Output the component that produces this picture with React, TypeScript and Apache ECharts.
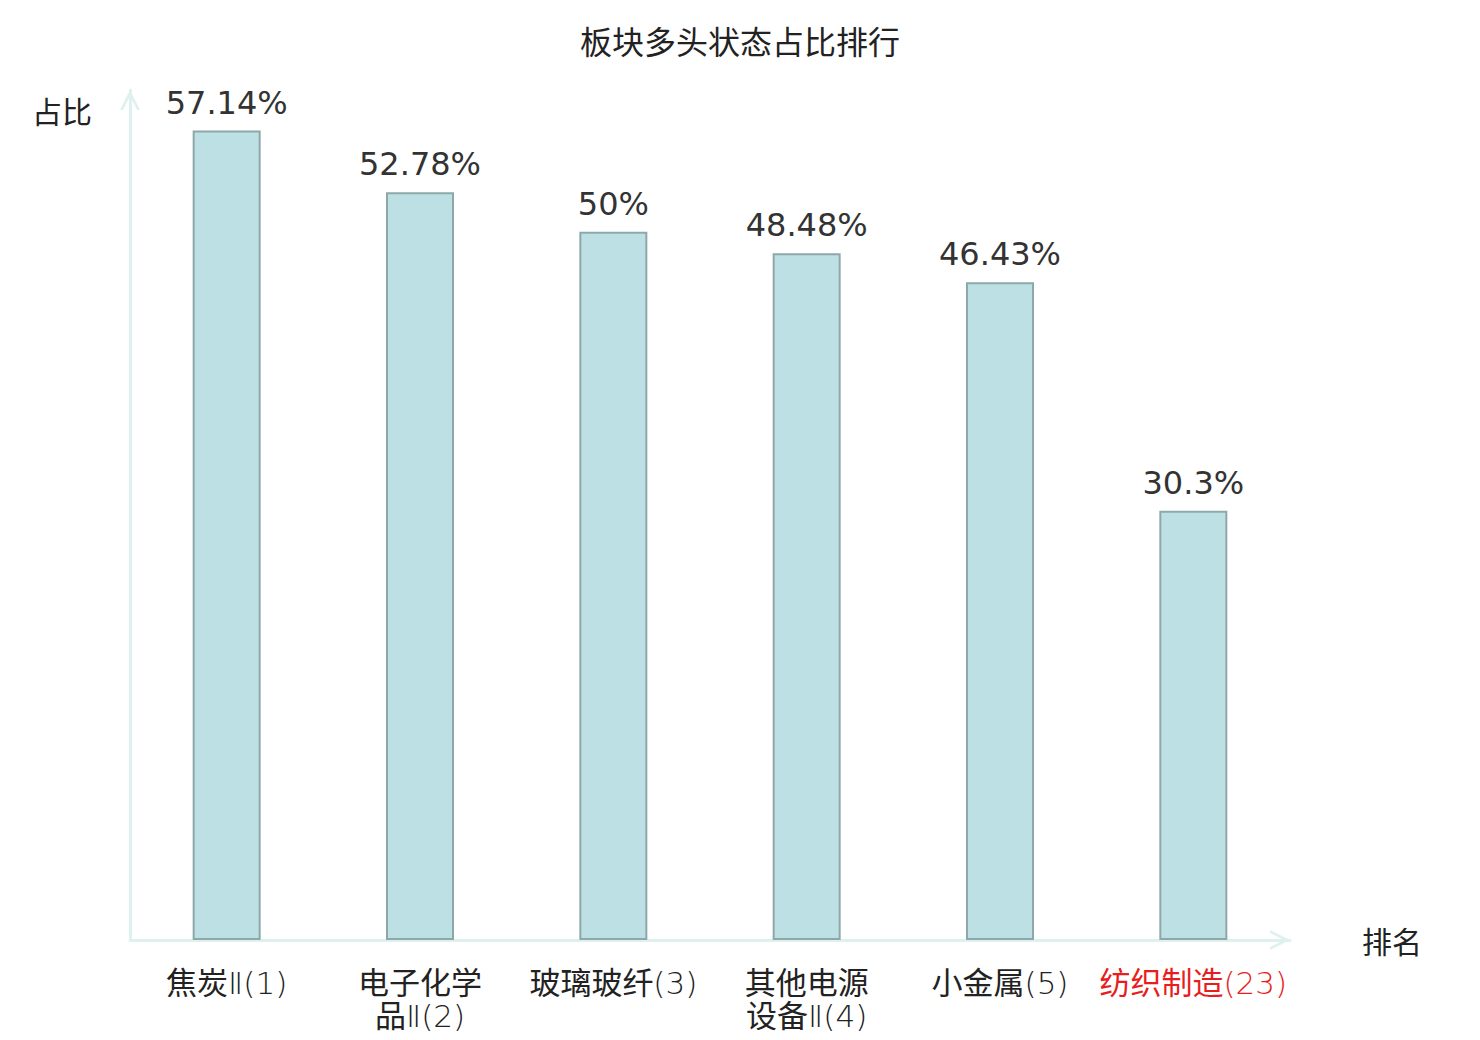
import React, { useEffect, useRef } from "react";
import * as echarts from "echarts";

const titleText = "板块多头状态占比排行";
const sectorNames = ["焦炭Ⅱ", "电子化学品Ⅱ", "玻璃玻纤", "其他电源设备Ⅱ", "小金属", "纺织制造"];
const sectorRanks = [1, 2, 3, 4, 5, 23];
const bullishShare = [57.14, 52.78, 50, 48.48, 46.43, 30.3];
const yAxisName = "占比";
const xAxisName = "排名";

const categories = sectorNames.map((n, i) => `${n}(${sectorRanks[i]})`);

const CJK = '"Noto Sans CJK SC", "Noto Sans", sans-serif';
const THIN = '"DejaVu Sans", "Noto Sans CJK SC", sans-serif';

export default function App() {
  const ref = useRef<HTMLDivElement>(null);
  useEffect(() => {
    if (!ref.current) return;
    const chart = echarts.init(ref.current, undefined, { renderer: "svg" });
    const arrowPath = "path://M0,20 L10,0 L20,20 L17,20 L10,6 L3,20 Z";
    const lastIdx = categories.length - 1;
    // split a label into CJK runs and latin runs, using rich styles
    const toRich = (s: string, red: boolean) => {
      const suf = red ? "r" : "";
      let out = "";
      const re = /([\u4e00-\u9fff]+)|([^\u4e00-\u9fff]+)/g;
      let m: RegExpExecArray | null;
      while ((m = re.exec(s)) !== null) {
        if (m[1]) out += `{c${suf}|${m[1]}}`;
        else out += `{l${suf}|${m[2]}}`;
      }
      return out;
    };
    const base = { fontSize: 31, lineHeight: 33, verticalAlign: "middle" };
    const thinPad = [5, 0, 0, 0];
    chart.setOption({
      animation: false,
      backgroundColor: "#ffffff",
      title: {
        text: titleText,
        left: "center",
        top: 19,
        textStyle: { fontFamily: CJK, fontSize: 32, fontWeight: "normal", color: "#222222" },
      },
      grid: { left: 130, right: 190, top: 90, bottom: 100, containLabel: false },
      xAxis: {
        type: "category",
        data: categories,
        name: xAxisName,
        nameLocation: "end",
        nameGap: 72,
        nameTextStyle: { fontFamily: CJK, fontSize: 30, color: "#222222", align: "left", verticalAlign: "middle" },
        axisLine: {
          show: true,
          lineStyle: { color: "#dff1ef", width: 3 },
          symbol: ["none", arrowPath],
          symbolSize: [22, 20],
          symbolOffset: [0, -10],
        },
        axisTick: { show: false },
        axisLabel: {
          interval: 0,
          margin: 24,
          fontFamily: CJK,
          fontSize: 31,
          lineHeight: 33,
          color: (_v: string, idx: number) => (idx === lastIdx ? "#e81e1e" : "#222222"),
          formatter: (v: string, idx: number) => {
            const n = sectorNames[idx] ?? v;
            const r = `(${sectorRanks[idx]})`;
            const red = idx === lastIdx;
            if (n.length > 4) return toRich(n.slice(0, 4), red) + "\n" + toRich(n.slice(4) + r, red);
            return toRich(n + r, red);
          },
          rich: {
            c: { ...base, fontFamily: CJK, fontWeight: "normal", color: "#222222" },
            l: { ...base, fontFamily: THIN, fontWeight: 200, color: "#222222", padding: thinPad },
            cr: { ...base, fontFamily: CJK, fontWeight: "normal", color: "#e81e1e" },
            lr: { ...base, fontFamily: THIN, fontWeight: 200, color: "#e81e1e", padding: thinPad },
          },
        },
      },
      yAxis: {
        type: "value",
        min: 0,
        max: 60,
        name: yAxisName,
        nameLocation: "end",
        nameGap: -20,
        nameTextStyle: {
          fontFamily: CJK,
          fontSize: 30,
          color: "#222222",
          align: "right",
          verticalAlign: "middle",
          padding: [0, 38, 0, 0],
        },
        axisLine: {
          show: true,
          lineStyle: { color: "#dff1ef", width: 3 },
          symbol: ["none", arrowPath],
          symbolSize: [22, 20],
          symbolOffset: [0, -10],
        },
        axisTick: { show: false },
        axisLabel: { show: false },
        splitLine: { show: false },
      },
      series: [
        {
          type: "bar",
          data: bullishShare,
          barWidth: 68,
          itemStyle: { color: "#bce0e3", borderColor: "#8ea8aa", borderWidth: 2 },
          label: {
            show: true,
            position: "top",
            distance: 12,
            fontFamily: '"DejaVu Sans", sans-serif',
            fontSize: 32,
            color: "#333333",
            formatter: (p: any) => `${p.value}%`,
          },
        },
      ],
    });
    return () => chart.dispose();
  }, []);
  return (
    <div
      ref={ref}
      style={{ position: "fixed", left: 0, top: 0, width: 1480, height: 1040, background: "#fff" }}
    />
  );
}
